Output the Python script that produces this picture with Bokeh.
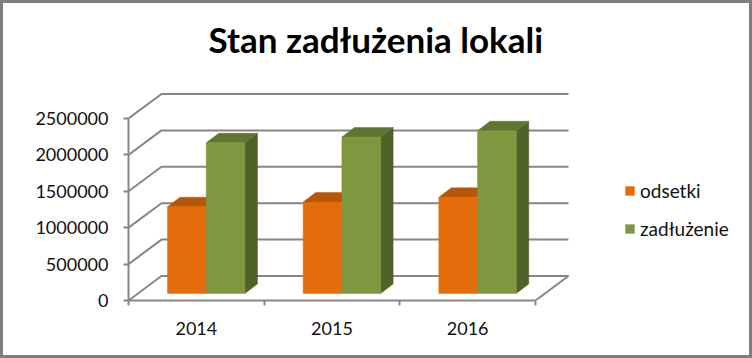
from bokeh.plotting import figure
from bokeh.models import Range1d, FixedTicker, Legend, LegendItem
from bokeh.embed import file_html
from bokeh.resources import INLINE

title_text = "Stan zadłużenia lokali"
categories = ["2014", "2015", "2016"]
y_ticks = [0, 500000, 1000000, 1500000, 2000000, 2500000]
odsetki = [1190000, 1254000, 1319000]
zadluzenie = [2068000, 2147000, 2234000]

FONT = "Lato"
GRAY = "#868686"
# projection of the oblique 3D box, in data units
WALL_DX, WALL_DY = 0.2432, 336500
BAR_DX, BAR_DY = 0.092, 130500
BAR_BASE = 97500
BAR_W = 0.2855
BAR_X0 = 0.2875

p = figure(width=752, height=358, output_backend="svg", toolbar_location=None,
           x_range=Range1d(0, 4.585), y_range=Range1d(0, 3269000),
           min_border_left=128, min_border_right=2, min_border_top=62, min_border_bottom=58,
           outline_line_color=None, background_fill_alpha=0, border_fill_alpha=0)
p.styles = {"box-shadow": "inset 0 0 0 3px #7F7F7F"}
p.grid.visible = False

p.yaxis.bounds = (0, 2500000)
p.yaxis.ticker = FixedTicker(ticks=y_ticks)
p.yaxis.formatter.use_scientific = False
p.yaxis.major_tick_in = 0
p.yaxis.major_tick_out = 5
p.yaxis.minor_tick_out = 0
p.yaxis.minor_tick_in = 0
p.yaxis.major_label_standoff = 15
p.xaxis.bounds = (0, 3)
p.xaxis.ticker = FixedTicker(ticks=[0.5, 1.5, 2.5], minor_ticks=[0, 1, 2, 3])
p.xaxis.major_label_overrides = {i + 0.5: c for i, c in enumerate(categories)}
p.xaxis.major_tick_in = 0
p.xaxis.major_tick_out = 0
p.xaxis.minor_tick_in = 0
p.xaxis.minor_tick_out = 5
p.xaxis.major_label_standoff = 16
for ax in (p.xaxis[0], p.yaxis[0]):
    ax.axis_line_color = GRAY
    ax.axis_line_width = 2
    ax.major_tick_line_color = GRAY
    ax.major_tick_line_width = 2
    ax.minor_tick_line_color = GRAY
    ax.minor_tick_line_width = 2
    ax.major_label_text_font = FONT
    ax.major_label_text_font_size = "18px"
    ax.major_label_text_color = "#111111"

# walls
xs, ys = [], []
for t in y_ticks:
    xs.append([0, WALL_DX, 3 + WALL_DX])
    ys.append([t, t + WALL_DY, t + WALL_DY])
xs.append([3, 3 + WALL_DX])
ys.append([0, WALL_DY])
p.multi_line(xs, ys, line_color=GRAY, line_width=2)

def bar(left, val, front, top, side):
    b, t = BAR_BASE, BAR_BASE + val
    r = left + BAR_W
    p.patch([r, r + BAR_DX, r + BAR_DX, r], [b, b + BAR_DY, t + BAR_DY, t], color=side, line_width=0.5)
    p.patch([left, left + BAR_DX, r + BAR_DX, r], [t, t + BAR_DY, t + BAR_DY, t], color=top, line_width=0.5)
    return p.quad(left=left, right=r, bottom=b, top=t, color=front, line_width=0.5)

r1 = r2 = None
for i in range(len(categories)):
    r1 = bar(i + BAR_X0, odsetki[i], "#E46C0A", "#B65708", "#984807")
    r2 = bar(i + BAR_X0 + BAR_W, zadluzenie[i], "#7F983F", "#5F7530", "#4F6228")

legend = Legend(items=[LegendItem(label="odsetki", renderers=[r1]),
                       LegendItem(label="zadłużenie", renderers=[r2])],
                location=(496, 60), orientation="vertical", border_line_color=None,
                background_fill_alpha=0, glyph_width=11, glyph_height=11,
                label_text_font=FONT, label_text_font_size="19px", label_text_color="#111111",
                spacing=15, padding=0, margin=0, label_standoff=5)
p.add_layout(legend, "center")

p.title.text = title_text
p.title.text_font = FONT
p.title.text_font_style = "bold"
p.title.text_font_size = "35px"
p.title.text_color = "#000000"
p.title.align = "left"
p.title.offset = 80
p.title.standoff = 5

open("out.html", "w").write(file_html(p, INLINE))
